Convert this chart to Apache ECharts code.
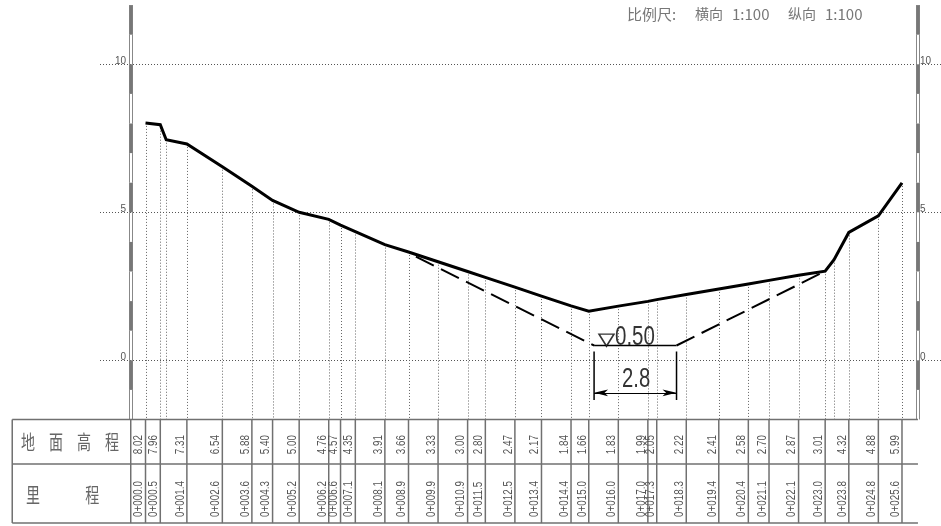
<!DOCTYPE html>
<html lang="en">
<head>
<meta charset="UTF-8">
<title>横断面图</title>
<script src="https://cdn.jsdelivr.net/npm/echarts@6/dist/echarts.min.js"></script>
<style>
  html, body { margin: 0; padding: 0; background: #fff; }
  #chart { width: 941px; height: 526px; }
</style>
</head>
<body>
<div id="chart"></div>
<script>
// 地面线 (station, elevation); 0.7 and 23.3 have droplines but no table column
var groundStations = [0, 0.5, 0.7, 1.4, 2.6, 3.6, 4.3, 5.2, 6.2, 6.6, 7.1, 8.1, 8.9, 9.9, 10.9, 11.5, 12.5, 13.4, 14.4, 15.0, 16.0, 17.0, 17.3, 18.3, 19.4, 20.4, 21.1, 22.1, 23.0, 23.3, 23.8, 24.8, 25.6];
var groundLevels = [8.02, 7.96, 7.45, 7.31, 6.54, 5.88, 5.40, 5.00, 4.76, 4.57, 4.35, 3.91, 3.66, 3.33, 3.00, 2.80, 2.47, 2.17, 1.84, 1.66, 1.83, 1.99, 2.05, 2.22, 2.41, 2.58, 2.70, 2.87, 3.01, 3.40, 4.32, 4.88, 5.99];

// 表格
var tableStations = [0, 0.5, 1.4, 2.6, 3.6, 4.3, 5.2, 6.2, 6.6, 7.1, 8.1, 8.9, 9.9, 10.9, 11.5, 12.5, 13.4, 14.4, 15.0, 16.0, 17.0, 17.3, 18.3, 19.4, 20.4, 21.1, 22.1, 23.0, 23.8, 24.8, 25.6];
var levelLabels = ['8.02', '7.96', '7.31', '6.54', '5.88', '5.40', '5.00', '4.76', '4.57', '4.35', '3.91', '3.66', '3.33', '3.00', '2.80', '2.47', '2.17', '1.84', '1.66', '1.83', '1.99', '2.05', '2.22', '2.41', '2.58', '2.70', '2.87', '3.01', '4.32', '4.88', '5.99'];
var chainageLabels = ['0+000.0', '0+000.5', '0+001.4', '0+002.6', '0+003.6', '0+004.3', '0+005.2', '0+006.2', '0+006.6', '0+007.1', '0+008.1', '0+008.9', '0+009.9', '0+010.9', '0+011.5', '0+012.5', '0+013.4', '0+014.4', '0+015.0', '0+016.0', '0+017.0', '0+017.3', '0+018.3', '0+019.4', '0+020.4', '0+021.1', '0+022.1', '0+023.0', '0+023.8', '0+024.8', '0+025.6'];

// 设计断面
var channelLeft = [[9.15, 3.5], [15.18, 0.5]];
var channelBed = [[15.18, 0.5], [17.97, 0.5]];
var channelRight = [[17.97, 0.5], [23.0, 3.01]];
var waterMark = [[15.6, 0.68]];

var yTicks = [0, 5, 10];
var rulerStations = [-0.5, 26.14];
var rulerLevels = [12, 11, 10, 9, 8, 7, 6, 5, 4, 3, 2, 1, 0, -1];

var sans = '"Liberation Sans", sans-serif';
var cjk = '"Noto Sans CJK SC", sans-serif';
var gray = '#707070';

var chart = echarts.init(document.getElementById('chart'));

// ruler posts on both sides, every metre alternately filled
function renderRuler(params, api) {
    var x = api.value(0), top = api.value(1);
    var a = api.coord([x, top]), b = api.coord([x, top - 1]);
    var filled = (12 - top) % 2 === 0;
    var left = Math.round(a[0] - 1.5) + 0.5;
    var items = [
        {type: 'line', shape: {x1: left, y1: a[1], x2: left, y2: b[1]}, style: {stroke: '#888', lineWidth: 1}},
        {type: 'line', shape: {x1: left + 3, y1: a[1], x2: left + 3, y2: b[1]}, style: {stroke: '#888', lineWidth: 1}}
    ];
    if (filled) {
        items.push({type: 'rect', shape: {x: left, y: a[1], width: 3, height: b[1] - a[1]}, style: {fill: '#777'}});
    }
    return {type: 'group', children: items};
}

function renderDrop(params, api) {
    var a = api.coord([api.value(0), api.value(1)]);
    var b = api.coord([api.value(0), -2]);
    var x = Math.round(a[0]) + 0.5;
    return {
        type: 'line',
        shape: {x1: x, y1: a[1], x2: x, y2: b[1]},
        style: {stroke: '#666', lineWidth: 1, lineDash: [1, 2]}
    };
}

function columnText(text, x, y) {
    return {
        type: 'text', x: x, y: y, rotation: Math.PI / 2, scaleX: 0.82,
        style: {text: text, fill: '#555', font: '12px ' + sans, align: 'left', verticalAlign: 'bottom'}
    };
}

// one table column: separator plus the two rotated labels
function renderColumn(params, api) {
    var i = params.dataIndex;
    var x = api.value(0);
    var top = api.coord([x, -2]), bottom = api.coord([x, -5.5]);
    var levelPos = api.coord([x, -3.17]), chainPos = api.coord([x, -5.29]);
    return {
        type: 'group',
        children: [
            {type: 'line', shape: {x1: top[0], y1: top[1], x2: bottom[0], y2: bottom[1]}, style: {stroke: gray, lineWidth: 1.5}},
            columnText(levelLabels[i], levelPos[0] - 0.5, levelPos[1]),
            columnText(chainageLabels[i], chainPos[0] - 0.5, chainPos[1])
        ]
    };
}

// table frame
function renderFrame(params, api) {
    var y = api.value(1);
    var a = api.coord([api.value(0), y]), b = api.coord([26.14, y]);
    return {type: 'line', shape: {x1: a[0], y1: a[1], x2: b[0], y2: b[1]}, style: {stroke: gray, lineWidth: 1.5}};
}
function renderFrameV(params, api) {
    var x = api.value(0);
    var a = api.coord([x, -2]), b = api.coord([x, -5.5]);
    return {type: 'line', shape: {x1: a[0], y1: a[1], x2: b[0], y2: b[1]}, style: {stroke: gray, lineWidth: 1.5}};
}

function solid(name, data, width, dash) {
    return {
        name: name, type: 'line', data: data, symbol: 'none', silent: true, z: 5,
        lineStyle: {color: '#000', width: width, type: dash || 'solid', cap: 'butt', join: 'miter'}
    };
}

function note(text, x, y, size, family, color, scale) {
    return {type: 'text', x: x, y: y, scaleX: scale || 1, silent: true, z: 7,
        style: {text: text, font: size + 'px ' + family, fill: color, align: 'left', verticalAlign: 'middle'}};
}

chart.setOption({
    animation: false,
    grid: {left: 100, right: 0, top: 5.1, bottom: 106.5},
    xAxis: {type: 'value', min: -1.54, max: 26.92, show: false},
    yAxis: [{
        type: 'value', min: -2, max: 12, position: 'left', offset: -30,
        axisLine: {show: false},
        axisTick: {show: false, customValues: yTicks},
        splitLine: {show: true, lineStyle: {color: '#555', width: 1, type: [1, 2]}},
        axisLabel: {customValues: yTicks, margin: 4, color: '#555', fontFamily: sans, fontSize: 10, verticalAlign: 'bottom', lineHeight: 6}
    }, {
        type: 'value', min: -2, max: 12, position: 'right', offset: -23,
        axisLine: {show: false},
        axisTick: {show: false, customValues: yTicks},
        splitLine: {show: false},
        axisLabel: {customValues: yTicks, margin: 2, color: '#555', fontFamily: sans, fontSize: 10, verticalAlign: 'bottom', lineHeight: 6}
    }],
    graphic: [
        note('比例尺:', 627, 14, 15, cjk, '#777'),
        note('横向', 695, 14, 14, cjk, '#777'),
        note('1:100', 732, 14, 15, cjk, '#777'),
        note('纵向', 788, 14, 14, cjk, '#777'),
        note('1:100', 825, 14, 15, cjk, '#777'),
        note('地　面　高　程', 21, 442, 20, cjk, '#666', 0.7),
        note('里　　　 程', 26, 495, 20, cjk, '#666', 0.7),
        note('0.50', 615, 338, 27, sans, '#333', 0.76),
        note('2.8', 622, 380, 27, sans, '#333', 0.75)
    ],
    series: [
        {type: 'custom', renderItem: renderDrop, clip: false, silent: true, z: 2,
            data: groundStations.map(function (s, i) { return [s, groundLevels[i]]; })},
        {type: 'custom', renderItem: renderRuler, clip: false, silent: true, z: 3,
            data: [].concat.apply([], rulerStations.map(function (s) {
                return rulerLevels.map(function (v) { return [s, v]; });
            }))},
        {type: 'custom', renderItem: renderColumn, clip: false, silent: true, z: 3,
            data: tableStations.map(function (s) { return [s, 0]; })},
        {type: 'custom', renderItem: renderFrame, clip: false, silent: true, z: 3,
            data: [[-4.51, -2], [-4.51, -3.5], [-4.51, -5.5]]},
        {type: 'custom', renderItem: renderFrameV, clip: false, silent: true, z: 3,
            data: [[-4.51, 0], [-0.5, 0]]},
        solid('地面线', groundStations.map(function (s, i) { return [s, groundLevels[i]]; }), 3),
        solid('左坡', channelLeft, 2, [20, 8]),
        solid('渠底', channelBed, 1.5),
        solid('右坡', channelRight, 2, [20, 8]),
        solid('左界', [[15.18, 0.3], [15.18, -1.34]], 1.5),
        solid('右界', [[17.97, 0.3], [17.97, -1.34]], 1.5),
        {
            type: 'line', data: [], silent: true,
            markLine: {
                silent: true, animation: false, symbol: ['arrow', 'arrow'], symbolSize: [5, 14],
                label: {show: false},
                lineStyle: {color: '#000', width: 1, type: 'solid'},
                data: [[{coord: [15.18, -1.1]}, {coord: [17.97, -1.1]}]]
            }
        },
        {
            type: 'scatter', data: waterMark, silent: true, z: 6,
            symbol: 'triangle', symbolRotate: 180, symbolSize: [15, 12],
            itemStyle: {color: '#fff', borderColor: '#000', borderWidth: 1.5}
        }
    ]
});
</script>
</body>
</html>
